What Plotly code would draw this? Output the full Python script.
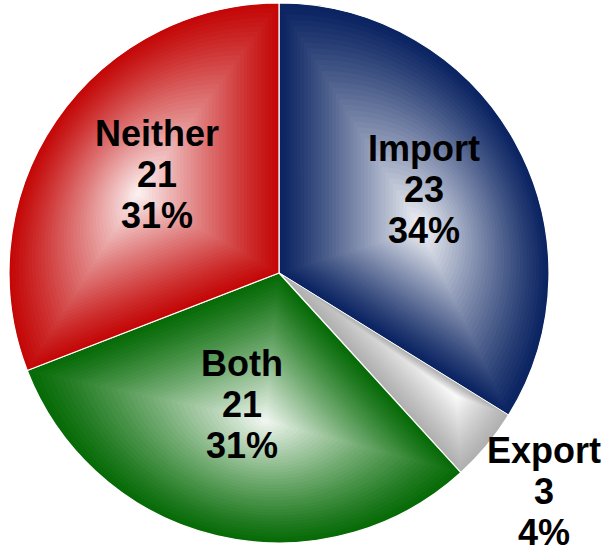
import math
import plotly.graph_objects as go

# Trade status of the surveyed firms
categories = ["Import", "Export", "Both", "Neither"]
counts = [23, 3, 21, 21]

# Slice styling
edge_colors = ["#0b2462", "#b0b0b0", "#076b07", "#c40808"]
label_radius = [0.62, 1.272, 0.505, 0.58]      # fraction of pie radius
label_turn = [0.8, 0.3, -2.3, -4.5]             # degrees, nudge along the arc
glow_radius = [0.55, 0.80, 0.55, 0.60]
glow_turn = [-12.0, 5.0, 8.0, 5.0]

W, H = 608, 553
CX, CY, R = 279.0, 273.0, 270.0
LINE_GAP = 41
FONT = dict(family="Liberation Sans, Arial, sans-serif", size=36, color="black")

total = sum(counts)


def px_to_paper(x, y):
    return x / W, 1 - y / H


def mix(hex_color, t):
    r, g, b = (int(hex_color[i:i + 2], 16) for i in (1, 3, 5))
    r = round(r + (255 - r) * t)
    g = round(g + (255 - g) * t)
    b = round(b + (255 - b) * t)
    return f"rgb({r},{g},{b})"


def polar(r, deg):
    a = math.radians(deg)
    return CX + r * math.cos(a), CY - r * math.sin(a)


fig = go.Figure()

# Base pie, starting at 12 o'clock and running clockwise
x0, y0 = px_to_paper(CX - R, CY + R)
x1, y1 = px_to_paper(CX + R, CY - R)
fig.add_trace(go.Pie(
    labels=categories,
    values=counts,
    sort=False,
    direction="clockwise",
    rotation=0,
    textinfo="none",
    hoverinfo="label+value+percent",
    marker=dict(colors=edge_colors, line=dict(color="white", width=1.2)),
    domain=dict(x=[x0, x1], y=[y0, y1]),
    showlegend=False,
))

# Per-slice shading: nested copies of each wedge shrinking toward a glow point
shapes = []
annotations = []
start = 90.0
LAYERS = 40
for name, v, col, lr, lt, gr, gt in zip(categories, counts, edge_colors,
                                        label_radius, label_turn,
                                        glow_radius, glow_turn):
    sweep = 360.0 * v / total
    end = start - sweep
    mid = (start + end) / 2

    n_arc = max(8, int(sweep / 2))
    pts = [(CX, CY)]
    for i in range(n_arc + 1):
        pts.append(polar(R, start - sweep * i / n_arc))

    fx, fy = polar(R * gr, mid + gt)
    for k in range(1, LAYERS):
        s = 1 - k / LAYERS
        t = 0.96 * (1 - s) ** 1.15
        # inset slightly so the white slice borders stay visible
        poly = [(fx + s * (x - fx), fy + s * (y - fy)) for x, y in pts]
        path = "M " + " L ".join(
            "{:.5f},{:.5f}".format(*px_to_paper(x, y)) for x, y in poly) + " Z"
        shapes.append(dict(type="path", path=path, xref="paper", yref="paper",
                           fillcolor=mix(col, t), line=dict(width=0),
                           layer="above"))

    # Three-line label: name, count, share
    lx, ly = polar(R * lr, mid + lt)
    lines = [name, str(v), f"{round(100 * v / total)}%"]
    for j, txt in enumerate(lines):
        ax, ay = px_to_paper(lx, ly + (j - 1) * LINE_GAP)
        annotations.append(dict(text=f"<b>{txt}</b>", x=ax, y=ay,
                                xref="paper", yref="paper",
                                xanchor="center", yanchor="middle",
                                showarrow=False, font=FONT))
    start = end

fig.update_layout(
    width=W, height=H,
    margin=dict(l=0, r=0, t=0, b=0),
    paper_bgcolor="white",
    plot_bgcolor="white",
    shapes=shapes,
    annotations=annotations,
)

fig.write_html("out.html")
